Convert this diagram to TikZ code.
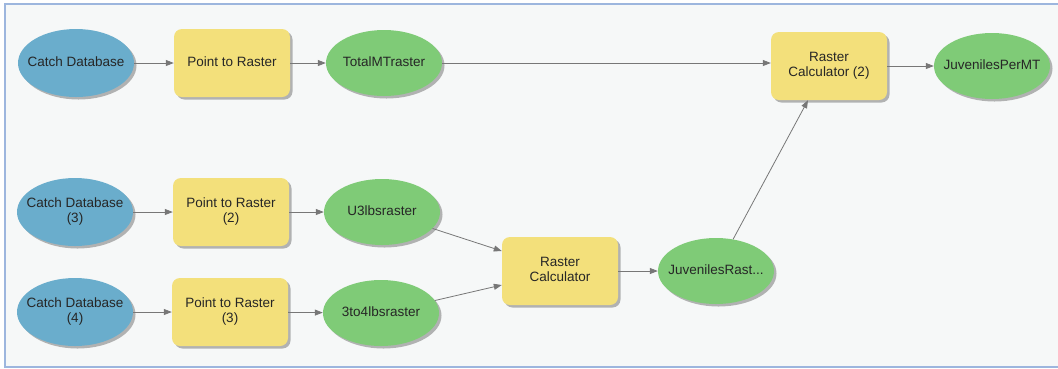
\documentclass[tikz,border=0pt]{standalone}
\usepackage{fontspec}
\setmainfont{Liberation Sans}
\usetikzlibrary{shapes.geometric,arrows.meta,shadows}
\definecolor{framec}{HTML}{9DB6DE}
\definecolor{bgc}{HTML}{F6F8F8}
\definecolor{bluec}{HTML}{6AADCC}
\definecolor{yellowc}{HTML}{F3E07B}
\definecolor{greenc}{HTML}{7FCB77}
\definecolor{edgec}{HTML}{777777}
\definecolor{txtc}{HTML}{262626}
\newcommand\zw[1]{\makebox[0pt]{\begin{tabular}{@{}c@{}}#1\end{tabular}}}
\begin{document}
\begin{tikzpicture}[x=1pt,y=-1pt,
  base/.style={minimum width=116pt, minimum height=68pt, inner sep=0pt,
    font=\fontsize{13.5}{15}\selectfont, text=txtc,
    drop shadow={shadow xshift=2.5pt, shadow yshift=-2.5pt, fill=black, opacity=0.28}},
  dataset/.style={base, ellipse, fill=bluec},
  tool/.style={base, rectangle, rounded corners=8pt, fill=yellowc},
  output/.style={base, ellipse, fill=greenc, minimum height=66pt},
  conn/.style={draw=edgec, line width=0.8pt, -{Triangle[length=8pt,width=6pt]}, fill=none}
]
\useasboundingbox (0,0) rectangle (1058,368);
\fill[white] (0,0) rectangle (1058,368);
\fill[bgc] (5,4) rectangle (1058,367);
\draw[framec, line width=1.2pt] (1060,4) -- (5,4) -- (5,367) -- (1060,367);

% row 1
\node[dataset] (cd1) at (76,63) {\zw{Catch Database}};
\node[tool]    (pr1) at (232,63) {\zw{Point to Raster}};
\node[output]  (tot) at (384,63) {\zw{TotalMTraster}};
\node[tool]    (rc2) at (829,66) {\zw{Raster\\Calculator (2)}};
\node[output]  (jpm) at (992,66) {\zw{JuvenilesPerMT}};

% row 2
\node[dataset] (cd3) at (75,212) {\zw{Catch Database\\(3)}};
\node[tool]    (pr2) at (231,212) {\zw{Point to Raster\\(2)}};
\node[output]  (u3)  at (382,212) {\zw{U3lbsraster}};

% row 3
\node[dataset] (cd4) at (75,312) {\zw{Catch Database\\(4)}};
\node[tool]    (pr3) at (230,312) {\zw{Point to Raster\\(3)}};
\node[output]  (t34) at (381,313) {\zw{3to4lbsraster}};

% merge
\node[tool]    (rc)  at (560,271) {\zw{Raster\\Calculator}};
\node[output]  (jr)  at (716,271) {\zw{JuvenilesRast...}};

\draw[conn] (cd1) -- (pr1);
\draw[conn] (pr1) -- (tot);
\draw[conn] (tot.east) -- (rc2.west |- tot.east);
\draw[conn] (rc2) -- (jpm);
\draw[conn] (cd3) -- (pr2);
\draw[conn] (pr2) -- (u3);
\draw[conn] (cd4) -- (pr3);
\draw[conn] (pr3) -- (t34);
\draw[conn] (u3) -- ([yshift=20pt]rc.west);
\draw[conn] (t34) -- ([yshift=-14pt]rc.west);
\draw[conn] (rc) -- (jr);
\draw[conn] (jr) -- ([xshift=-21pt]rc2.south);
\end{tikzpicture}
\end{document}
